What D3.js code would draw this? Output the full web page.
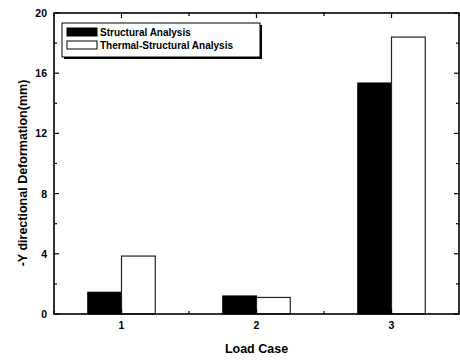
<!DOCTYPE html>
<html>
<head>
<meta charset="utf-8">
<script src="https://cdn.jsdelivr.net/npm/d3@7"></script>
<style>
  body { margin: 0; background: #fff; }
  text { font-family: "Liberation Sans", Arial, sans-serif; font-weight: bold; }
</style>
</head>
<body>
<div id="chart"></div>
<script>
"use strict";

const loadCases = [1, 2, 3];
const structural = [1.45, 1.2, 15.35];
const thermalStructural = [3.85, 1.1, 18.4];
const seriesNames = ["Structural Analysis", "Thermal-Structural Analysis"];
const yTicks = [0, 4, 8, 12, 16, 20];

const width = 460, height = 360;
const margin = { top: 13, right: 1, bottom: 46, left: 54 };

const svg = d3.select("#chart").append("svg")
  .attr("width", width).attr("height", height);

const x = d3.scaleLinear().domain([0.5, 3.5]).range([margin.left, width - margin.right]);
const y = d3.scaleLinear().domain([0, 20]).range([height - margin.bottom, margin.top]);
const barW = x(0.75) - x(0.5);

// bars
const g = svg.append("g");
loadCases.forEach((c, i) => {
  g.append("rect")
    .attr("x", x(c) - barW).attr("y", y(structural[i]))
    .attr("width", barW).attr("height", y(0) - y(structural[i]))
    .attr("fill", "#000").attr("stroke", "#000");
  g.append("rect")
    .attr("x", x(c)).attr("y", y(thermalStructural[i]))
    .attr("width", barW).attr("height", y(0) - y(thermalStructural[i]))
    .attr("fill", "#fff").attr("stroke", "#222").attr("stroke-width", 1.2);
});

// frame
svg.append("rect")
  .attr("x", x(0.5)).attr("y", y(20))
  .attr("width", x(3.5) - x(0.5)).attr("height", y(0) - y(20))
  .attr("fill", "none").attr("stroke", "#000").attr("stroke-width", 1.6);

// y ticks (left + right, inward)
d3.range(0, 21, 2).forEach(v => {
  const len = v % 4 === 0 ? 5 : 3;
  svg.append("line").attr("x1", x(0.5)).attr("x2", x(0.5) + len)
    .attr("y1", y(v)).attr("y2", y(v)).attr("stroke", "#000").attr("stroke-width", 1.2);
  svg.append("line").attr("x1", x(3.5) - len).attr("x2", x(3.5))
    .attr("y1", y(v)).attr("y2", y(v)).attr("stroke", "#000").attr("stroke-width", 1.2);
});

// x ticks (top + bottom, inward)
d3.range(0.5, 3.51, 0.5).forEach(v => {
  const len = Number.isInteger(v) ? 5 : 3;
  svg.append("line").attr("x1", x(v)).attr("x2", x(v))
    .attr("y1", y(20)).attr("y2", y(20) + len).attr("stroke", "#000").attr("stroke-width", 1.2);
  svg.append("line").attr("x1", x(v)).attr("x2", x(v))
    .attr("y1", y(0)).attr("y2", y(0) - len).attr("stroke", "#000").attr("stroke-width", 1.2);
});

// tick labels
svg.selectAll(".ylab").data(yTicks).enter().append("text")
  .attr("x", x(0.5) - 7).attr("y", d => y(d) + 4)
  .attr("text-anchor", "end").attr("font-size", 10.5).text(d => d);
svg.selectAll(".xlab").data(loadCases).enter().append("text")
  .attr("x", d => x(d)).attr("y", y(0) + 15)
  .attr("text-anchor", "middle").attr("font-size", 10.5).text(d => d);

// axis titles
svg.append("text")
  .attr("x", (x(0.5) + x(3.5)) / 2).attr("y", 353)
  .attr("text-anchor", "middle").attr("font-size", 12.5).text("Load Case");
svg.append("text")
  .attr("transform", "translate(27,173) rotate(-90)")
  .attr("text-anchor", "middle").attr("font-size", 12.5)
  .text("-Y directional Deformation(mm)");

// legend
const lg = svg.append("g");
lg.append("rect").attr("x", 64).attr("y", 25).attr("width", 198).attr("height", 34).attr("fill", "#000");
lg.append("rect").attr("x", 62).attr("y", 23).attr("width", 198).attr("height", 34)
  .attr("fill", "#fff").attr("stroke", "#000").attr("stroke-width", 1);
const fills = ["#000", "#fff"];
seriesNames.forEach((n, i) => {
  lg.append("rect").attr("x", 67).attr("y", 28 + i * 13).attr("width", 30).attr("height", 8)
    .attr("fill", fills[i]).attr("stroke", "#000").attr("stroke-width", 1);
  lg.append("text").attr("x", 100).attr("y", 36 + i * 13)
    .attr("font-size", 10).text(n);
});
</script>
</body>
</html>
